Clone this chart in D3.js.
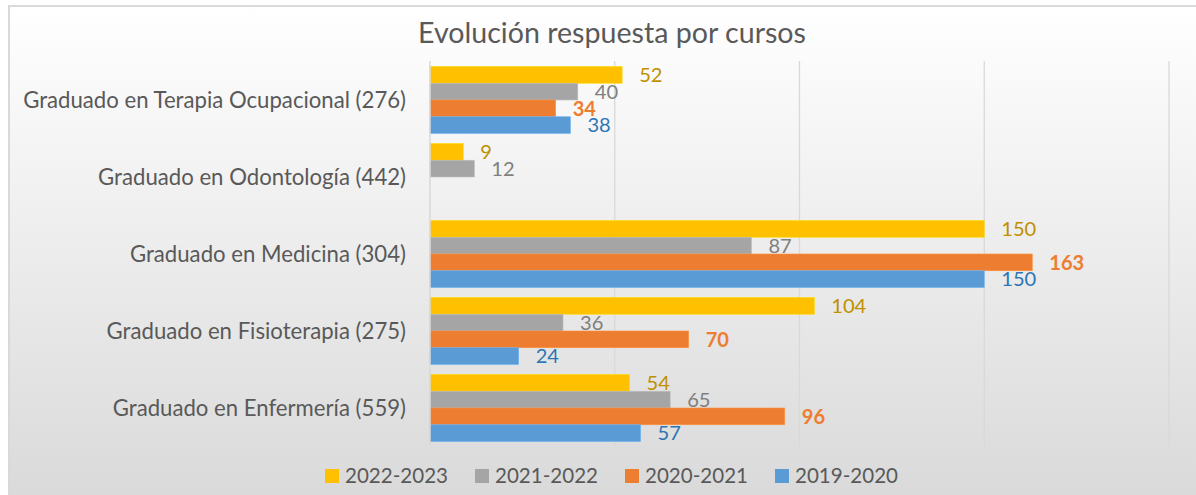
<!DOCTYPE html>
<html><head><meta charset="utf-8">
<script src="https://cdn.jsdelivr.net/npm/d3@7"></script>
<style>body{margin:0;background:#fff}svg{display:block}</style>
</head><body>
<svg id="c" width="1196" height="495"></svg>
<script>
const categories = ["Graduado en Terapia Ocupacional (276)","Graduado en Odontología (442)","Graduado en Medicina (304)","Graduado en Fisioterapia (275)","Graduado en Enfermería (559)"];
const seriesNames = ["2022-2023","2021-2022","2020-2021","2019-2020"];
const v2022_2023 = [52, 9, 150, 104, 54];
const v2021_2022 = [40, 12, 87, 36, 65];
const v2020_2021 = [34, null, 163, 70, 96];
const v2019_2020 = [38, null, 150, 24, 57];
const seriesValues = [v2022_2023, v2021_2022, v2020_2021, v2019_2020];
const xTicks = [0, 50, 100, 150, 200];
const colors = ["#FFC000","#A5A5A5","#ED7D31","#5B9BD5"];
const labelColors = ["#BF9000","#7F7F7F","#ED7D31","#2E75B6"];
const labelWeights = [400, 400, 700, 400];

const svg = d3.select("#c");
const font = "Lato, 'Open Sans', sans-serif";

function fitSize(txt, target, weight) {
  const t = svg.append("text").attr("font-family",font).attr("font-size",100)
    .attr("font-weight",weight||400).text(txt);
  const w = t.node().getComputedTextLength();
  t.remove();
  return 100 * target / w;
}

const defs = svg.append("defs");
const grad = defs.append("linearGradient").attr("id","bg").attr("x1",0).attr("y1",0).attr("x2",0).attr("y2",1);
grad.append("stop").attr("offset","0%").attr("stop-color","#ffffff");
grad.append("stop").attr("offset","100%").attr("stop-color","#d9d9d9");
svg.append("rect").attr("x",0).attr("y",0).attr("width",1196).attr("height",495).attr("fill","#fff");
svg.append("rect").attr("x",9).attr("y",6).attr("width",1200).attr("height",500).attr("fill","url(#bg)")
  .attr("stroke","#d9d9d9").attr("stroke-width",2);

const titleText = "Evolución respuesta por cursos";
svg.append("text").attr("x",612).attr("y",43).attr("text-anchor","middle")
  .attr("font-family",font).attr("font-size",fitSize(titleText,388)).attr("fill","#595959")
  .text(titleText);

const catSize = fitSize(categories[0], 383);
const numSize = fitSize("150", 35);
const legSize = fitSize("2022-2023", 103);

const x = d3.scaleLinear().domain([0,200]).range([430,1169]);
const y = d3.scaleBand().domain(categories).range([61.5,446.5]).paddingInner(0.13).paddingOuter(0.065);
const ys = d3.scaleBand().domain(seriesNames).range([0,y.bandwidth()]);

svg.append("g").selectAll("line").data(xTicks.slice(1)).join("line")
  .attr("x1",d=>x(d)).attr("x2",d=>x(d)).attr("y1",61).attr("y2",446)
  .attr("stroke","#d9d9d9").attr("stroke-width",1.3);

const g = svg.append("g");
seriesValues.forEach((vals,si)=>{
  const data = categories.map((c,i)=>({c, v: vals[i]})).filter(d=>d.v!=null);
  g.append("g").selectAll("rect").data(data).join("rect")
    .attr("x",x(0)).attr("y",d=>y(d.c)+ys(seriesNames[si]))
    .attr("width",d=>x(d.v)-x(0)).attr("height",ys.bandwidth())
    .attr("fill",colors[si]).attr("stroke",d3.color(colors[si]).brighter(0.4)).attr("stroke-width",0.6);
  g.append("g").selectAll("text").data(data).join("text")
    .attr("x",d=>x(d.v)+17).attr("y",d=>y(d.c)+ys(seriesNames[si])+ys.bandwidth()/2)
    .attr("dy","0.36em").attr("font-family",font).attr("font-size",numSize)
    .attr("font-weight",labelWeights[si]).attr("fill",labelColors[si]).text(d=>d.v);
});

svg.append("line").attr("x1",x(0)).attr("x2",x(0)).attr("y1",61).attr("y2",446)
  .attr("stroke","#d9d9d9").attr("stroke-width",1.5);

svg.append("g").selectAll("text").data(categories).join("text")
  .attr("x",406).attr("y",d=>y(d)+y.bandwidth()/2).attr("dy","0.35em")
  .attr("text-anchor","end").attr("font-family",font).attr("font-size",catSize).attr("fill","#595959")
  .text(d=>d);

const legX = [325, 475, 625, 775];
const lg = svg.append("g").selectAll("g").data(seriesNames).join("g")
  .attr("transform",(d,i)=>`translate(${legX[i]},469)`);
lg.append("rect").attr("width",14).attr("height",14).attr("fill",(d,i)=>colors[i]);
lg.append("text").attr("x",20).attr("y",7).attr("dy","0.36em").attr("font-family",font)
  .attr("font-size",legSize).attr("fill","#595959").text(d=>d);
</script>
</body></html>
